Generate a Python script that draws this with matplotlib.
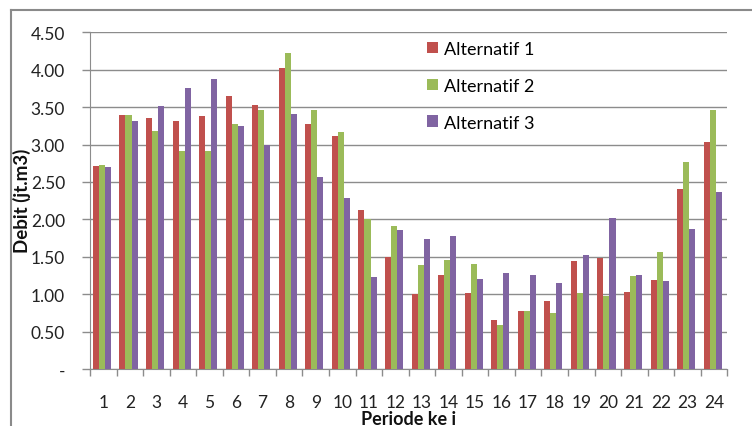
import matplotlib
matplotlib.use("Agg")
import matplotlib.pyplot as plt
from matplotlib.lines import Line2D
from matplotlib.patches import Patch
import numpy as np

plt.rcParams['font.family'] = ['Lato', 'DejaVu Sans']

periods = [str(i) for i in range(1, 25)]
alternatif_1 = [2.71, 3.40, 3.35, 3.31, 3.38, 3.65, 3.53, 4.02, 3.28, 3.11, 2.13, 1.50,
                1.00, 1.25, 1.02, 0.66, 0.77, 0.91, 1.45, 1.48, 1.03, 1.19, 2.40, 3.04]
alternatif_2 = [2.73, 3.40, 3.18, 2.91, 2.92, 3.28, 3.46, 4.23, 3.46, 3.17, 2.00, 1.91,
                1.39, 1.46, 1.40, 0.59, 0.77, 0.75, 1.02, 0.98, 1.24, 1.57, 2.76, 3.46]
alternatif_3 = [2.70, 3.31, 3.52, 3.75, 3.87, 3.25, 2.99, 3.41, 2.57, 2.29, 1.23, 1.86,
                1.74, 1.78, 1.20, 1.28, 1.26, 1.15, 1.53, 2.02, 1.26, 1.18, 1.87, 2.37]
series_names = ["Alternatif 1", "Alternatif 2", "Alternatif 3"]
y_ticks = [0, 0.5, 1.0, 1.5, 2.0, 2.5, 3.0, 3.5, 4.0, 4.5]
y_tick_labels = ["-", "0.50", "1.00", "1.50", "2.00", "2.50", "3.00", "3.50", "4.00", "4.50"]

colors = ["#C0504D", "#9BBB59", "#8064A2"]
grid_color = "#8C8C8C"

W, H = 752, 427
ax_left, ax_right, ax_bottom, ax_top = 90, 727.3, 370, 33.3
fig = plt.figure(figsize=(W / 100, H / 100), dpi=100)
ax = fig.add_axes([ax_left / W, (H - ax_bottom) / H, (ax_right - ax_left) / W,
                   (ax_bottom - ax_top) / H])

x = np.arange(len(periods))
bw = 0.227
for k, vals in enumerate([alternatif_1, alternatif_2, alternatif_3]):
    ax.bar(x + (k - 1) * bw - 0.05, vals, width=bw, color=colors[k], zorder=3,
           label=series_names[k])

ax.set_xlim(-0.5, len(periods) - 0.5)
ax.set_ylim(0, 4.5)
ax.set_yticks(y_ticks)
ax.set_yticklabels(y_tick_labels, fontsize=12.5, color="#222222")
ax.yaxis.grid(True, color=grid_color, linewidth=1.0, zorder=0)
ax.tick_params(axis='y', length=6, color=grid_color, width=1.0, pad=12)

ax.set_xticks(x)
ax.set_xticklabels(periods, fontsize=12.5, color="#222222")
ax.set_xticks(np.arange(-0.5, len(periods)), minor=True)
ax.tick_params(axis='x', which='major', length=0, pad=18)
ax.tick_params(axis='x', which='minor', length=5, color=grid_color, width=1.0)

for s in ["top", "right"]:
    ax.spines[s].set_visible(False)
ax.spines["left"].set_color(grid_color)
ax.spines["bottom"].set_color(grid_color)

handles = [Patch(facecolor=c) for c in colors]
ax.legend(handles, series_names, loc="upper left",
          bbox_to_anchor=((427 - ax_left) / (ax_right - ax_left),
                          (ax_bottom - 42) / (ax_bottom - ax_top)),
          frameon=False, fontsize=13, handlelength=0.6, handleheight=0.6,
          handletextpad=0.35, labelspacing=1.15, borderaxespad=0, borderpad=0)

fig.text(22 / W, 1 - 201 / H, "Debit (jt.m3)", rotation=90, ha="center", va="center",
         fontsize=13.5, fontweight="bold", color="#111111")
fig.text(409 / W, 1 - 420 / H, "Periode ke i", ha="center", va="center",
         fontsize=13, fontweight="bold", color="#111111")

# outer chart frame
fig.add_artist(Line2D([11 / W, 11 / W], [0, 1 - 11 / H], transform=fig.transFigure,
                      color="#8A8A8A", linewidth=1.5))
fig.add_artist(Line2D([11 / W, 1], [1 - 11 / H, 1 - 11 / H], transform=fig.transFigure,
                      color="#8A8A8A", linewidth=1.5))

fig.savefig("out.png", dpi=100)
